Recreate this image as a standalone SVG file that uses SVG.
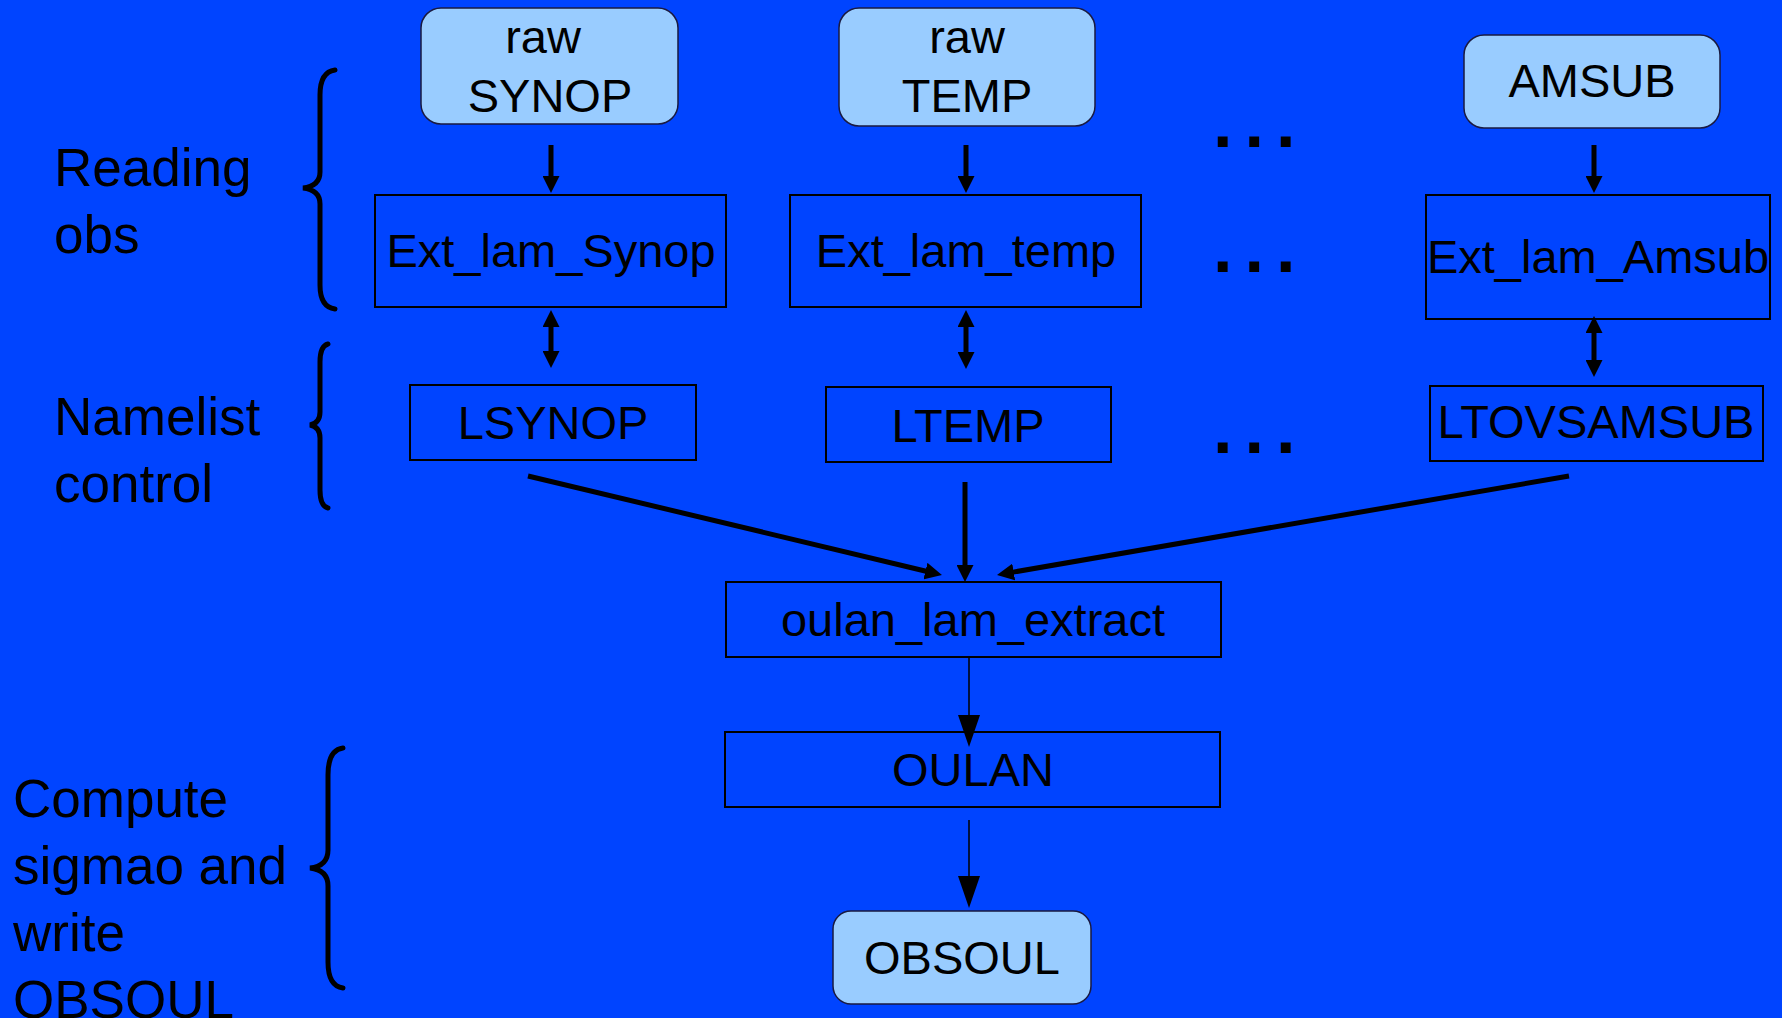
<svg xmlns="http://www.w3.org/2000/svg" width="1782" height="1018" viewBox="0 0 1782 1018">
  <style>
    text { font-family: "Liberation Sans", Arial, sans-serif; fill: #000; }
    .lbl { font-size: 47px; text-anchor: middle; }
    .side { font-size: 53px; }
    .dots { font-size: 70px; font-weight: bold; letter-spacing: 12px; }
    .store { fill: #99CCFF; stroke: #1a1a40; stroke-width: 1.5; }
    .proc { fill: none; stroke: #000; stroke-width: 2; }
    .brace { fill: none; stroke: #000; stroke-width: 5; stroke-linecap: round; }
    .thick { fill: none; stroke: #000; stroke-width: 5; }
    .thin { fill: none; stroke: #000; stroke-width: 1.5; }
  </style>
  <defs>
    <marker id="head" markerUnits="userSpaceOnUse" markerWidth="17" markerHeight="17" refX="5" refY="8.5" orient="auto-start-reverse">
      <path d="M0,0 L17,8.5 L0,17 z" fill="#000"/>
    </marker>
    <marker id="headThin" markerUnits="userSpaceOnUse" markerWidth="32" markerHeight="22" refX="4" refY="11" orient="auto-start-reverse">
      <path d="M0,0 L32,11 L0,22 z" fill="#000"/>
    </marker>
  </defs>

  <rect width="1782" height="1018" fill="#0044FF"/>

  <!-- side labels and braces -->
  <g id="label-reading">
    <text class="side" x="54" y="186">Reading</text>
    <text class="side" x="54" y="253">obs</text>
    <path class="brace" d="M335,70 Q320,72 320,95 L320,172 Q320,186 303,188 Q320,190 320,204 L320,285 Q320,307 335,309"/>
  </g>
  <g id="label-namelist">
    <text class="side" x="54" y="435">Namelist</text>
    <text class="side" x="54" y="502">control</text>
    <path class="brace" d="M328,344 Q320,346 320,362 L320,412 Q320,423 310,425 Q320,427 320,438 L320,490 Q320,506 328,508"/>
  </g>
  <g id="label-compute">
    <text class="side" x="13" y="817">Compute</text>
    <text class="side" x="13" y="884">sigmao and</text>
    <text class="side" x="13" y="951">write</text>
    <text class="side" x="13" y="1018">OBSOUL</text>
    <path class="brace" d="M343,748 Q328,750 328,775 L328,850 Q328,866 310,868 Q328,870 328,886 L328,962 Q328,986 343,988"/>
  </g>

  <!-- raw inputs -->
  <g id="raw-synop">
    <rect class="store" x="421" y="8" width="257" height="116" rx="20"/>
    <text class="lbl" x="543" y="53">raw</text>
    <text class="lbl" x="550" y="112">SYNOP</text>
  </g>
  <g id="raw-temp">
    <rect class="store" x="839" y="8" width="256" height="118" rx="20"/>
    <text class="lbl" x="967" y="53">raw</text>
    <text class="lbl" x="967" y="112">TEMP</text>
  </g>
  <g id="amsub">
    <rect class="store" x="1464" y="35" width="256" height="93" rx="20"/>
    <text class="lbl" x="1592" y="97">AMSUB</text>
  </g>

  <!-- extraction routines -->
  <g id="ext-lam-synop">
    <rect class="proc" x="375" y="195" width="351" height="112"/>
    <text class="lbl" x="551" y="267">Ext_lam_Synop</text>
  </g>
  <g id="ext-lam-temp">
    <rect class="proc" x="790" y="195" width="351" height="112"/>
    <text class="lbl" x="966" y="267">Ext_lam_temp</text>
  </g>
  <g id="ext-lam-amsub">
    <rect class="proc" x="1426" y="195" width="344" height="124"/>
    <text class="lbl" x="1598" y="273">Ext_lam_Amsub</text>
  </g>

  <!-- namelist switches -->
  <g id="lsynop">
    <rect class="proc" x="410" y="385" width="286" height="75"/>
    <text class="lbl" x="553" y="439">LSYNOP</text>
  </g>
  <g id="ltemp">
    <rect class="proc" x="826" y="387" width="285" height="75"/>
    <text class="lbl" x="968" y="442">LTEMP</text>
  </g>
  <g id="ltovsamsub">
    <rect class="proc" x="1430" y="386" width="333" height="75"/>
    <text class="lbl" x="1596" y="438">LTOVSAMSUB</text>
  </g>

  <!-- ellipses for further observation types -->
  <g id="more-types">
    <text class="dots" x="1213" y="147">...</text>
    <text class="dots" x="1213" y="272">...</text>
    <text class="dots" x="1213" y="453">...</text>
  </g>

  <!-- processing chain -->
  <g id="oulan-lam-extract">
    <rect class="proc" x="726" y="582" width="495" height="75"/>
    <text class="lbl" x="973" y="636">oulan_lam_extract</text>
  </g>
  <g id="oulan">
    <rect class="proc" x="725" y="732" width="495" height="75"/>
    <text class="lbl" x="973" y="786">OULAN</text>
  </g>
  <g id="obsoul">
    <rect class="store" x="833" y="911" width="258" height="93" rx="18"/>
    <text class="lbl" x="962" y="974">OBSOUL</text>
  </g>

  <!-- connectors -->
  <g id="connectors">
    <line class="thick" x1="551" y1="145" x2="551" y2="181" marker-end="url(#head)"/>
    <line class="thick" x1="966" y1="145" x2="966" y2="181" marker-end="url(#head)"/>
    <line class="thick" x1="1594" y1="145" x2="1594" y2="181" marker-end="url(#head)"/>
    <line class="thick" x1="551" y1="322" x2="551" y2="356" marker-start="url(#head)" marker-end="url(#head)"/>
    <line class="thick" x1="966" y1="322" x2="966" y2="357" marker-start="url(#head)" marker-end="url(#head)"/>
    <line class="thick" x1="1594" y1="328" x2="1594" y2="365" marker-start="url(#head)" marker-end="url(#head)"/>
    <line class="thick" x1="528" y1="476" x2="930.3" y2="572.2" marker-end="url(#head)"/>
    <line class="thick" x1="965" y1="482" x2="965" y2="570" marker-end="url(#head)"/>
    <line class="thick" x1="1569" y1="476" x2="1008.8" y2="572.9" marker-end="url(#head)"/>
    <line class="thin" x1="969" y1="657" x2="969" y2="719" marker-end="url(#headThin)"/>
    <line class="thin" x1="969" y1="820" x2="969" y2="880" marker-end="url(#headThin)"/>
  </g>
</svg>
